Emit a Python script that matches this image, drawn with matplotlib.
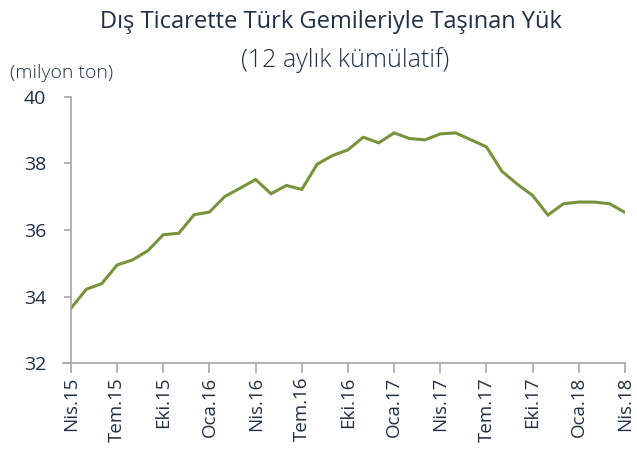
import matplotlib
matplotlib.use("Agg")
import matplotlib.pyplot as plt

plt.rcParams["font.family"] = ["Open Sans", "DejaVu Sans"]

# monthly 12-month cumulative cargo, Nis.15 .. Nis.18
values = [
    33.65, 34.22, 34.39, 34.95, 35.10, 35.38, 35.86, 35.90, 36.46, 36.54,
    37.01, 37.26, 37.52, 37.09, 37.34, 37.22, 37.98, 38.24, 38.41, 38.79,
    38.62, 38.92, 38.75, 38.71, 38.89, 38.92, 38.71, 38.50, 37.77, 37.38,
    37.04, 36.45, 36.79, 36.84, 36.84, 36.79, 36.53,
]
tick_labels = ["Nis.15", "Tem.15", "Eki.15", "Oca.16", "Nis.16", "Tem.16",
               "Eki.16", "Oca.17", "Nis.17", "Tem.17", "Eki.17", "Oca.18",
               "Nis.18"]
y_ticks = [32, 34, 36, 38, 40]

TEXT = "#1f2f45"
AXIS = "#a6a6a6"
LINE = "#77933c"

fig = plt.figure(figsize=(6.37, 4.51), dpi=100)
ax = fig.add_axes([0.1115, 0.195, 0.8695, 0.59])

x = list(range(len(values)))
ax.plot(x, values, color=LINE, lw=2.2, solid_joinstyle="miter")

ax.set_xlim(0, len(values) - 1)
ax.set_ylim(32, 40)
ax.set_yticks(y_ticks)
ax.set_xticks(x[::3])
ax.set_xticklabels(tick_labels, rotation=90)

for side in ("top", "right"):
    ax.spines[side].set_visible(False)
for side in ("left", "bottom"):
    ax.spines[side].set_color(AXIS)
    ax.spines[side].set_linewidth(1.2)
ax.spines["bottom"].set_bounds(-0.5, len(values) - 1)

ax.tick_params(axis="y", colors=AXIS, labelcolor=TEXT, labelsize=14,
               length=5, width=1.2, pad=13)
ax.tick_params(axis="x", colors=AXIS, labelcolor=TEXT, labelsize=13.5,
               length=7, width=1.2, pad=3)

fig.text(0.52, 0.952, "Dış Ticarette Türk Gemileriyle Taşınan Yük",
         ha="center", va="center", fontsize=17, color=TEXT)
fig.text(0.542, 0.868, "(12 aylık kümülatif)",
         ha="center", va="center", fontsize=18, color=TEXT,
         fontweight="light")
fig.text(0.015, 0.838, "(milyon ton)", ha="left", va="center",
         fontsize=14, color=TEXT, fontweight="light")

fig.savefig("out.png", dpi=100)
